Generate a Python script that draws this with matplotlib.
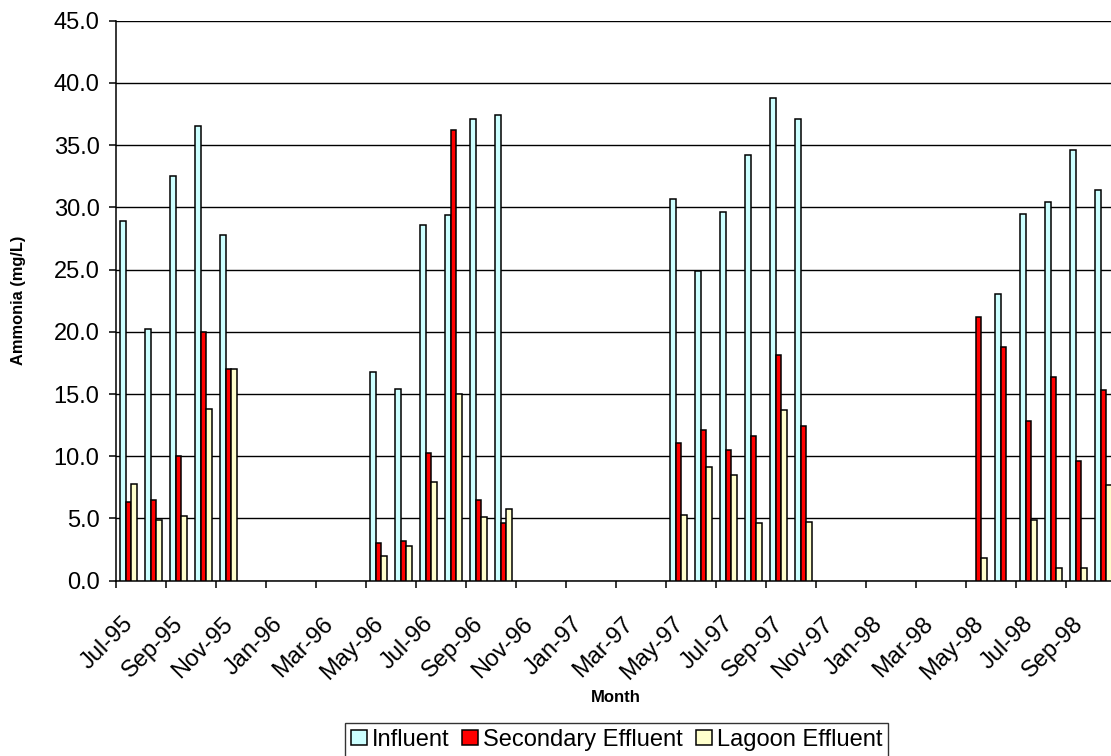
import matplotlib
matplotlib.use("Agg")
import matplotlib.pyplot as plt
import matplotlib.transforms as mtransforms
import numpy as np

plt.rcParams['font.family'] = ['Liberation Sans', 'DejaVu Sans']

nan = np.nan
months = ['Jul-95', 'Aug-95', 'Sep-95', 'Oct-95', 'Nov-95', 'Dec-95',
          'Jan-96', 'Feb-96', 'Mar-96', 'Apr-96', 'May-96', 'Jun-96',
          'Jul-96', 'Aug-96', 'Sep-96', 'Oct-96', 'Nov-96', 'Dec-96',
          'Jan-97', 'Feb-97', 'Mar-97', 'Apr-97', 'May-97', 'Jun-97',
          'Jul-97', 'Aug-97', 'Sep-97', 'Oct-97', 'Nov-97', 'Dec-97',
          'Jan-98', 'Feb-98', 'Mar-98', 'Apr-98', 'May-98', 'Jun-98',
          'Jul-98', 'Aug-98', 'Sep-98', 'Oct-98']

influent = [28.9, 20.2, 32.5, 36.5, 27.8, nan,
            nan, nan, nan, nan, 16.8, 15.4,
            28.6, 29.4, 37.1, 37.4, nan, nan,
            nan, nan, nan, nan, 30.7, 24.9,
            29.6, 34.2, 38.8, 37.1, nan, nan,
            nan, nan, nan, nan, nan, 23.0,
            29.5, 30.4, 34.6, 31.4]

secondary = [6.3, 6.5, 10.0, 20.0, 17.0, nan,
             nan, nan, nan, nan, 3.0, 3.2,
             10.3, 36.2, 6.5, 4.6, nan, nan,
             nan, nan, nan, nan, 11.1, 12.1,
             10.5, 11.6, 18.1, 12.4, nan, nan,
             nan, nan, nan, nan, 21.2, 18.8,
             12.8, 16.4, 9.6, 15.3]

lagoon = [7.8, 4.9, 5.2, 13.8, 17.0, nan,
          nan, nan, nan, nan, 2.0, 2.8,
          7.9, 15.0, 5.1, 5.8, nan, nan,
          nan, nan, nan, nan, 5.3, 9.1,
          8.5, 4.6, 13.7, 4.7, nan, nan,
          nan, nan, nan, nan, 1.8, nan,
          4.9, 1.0, 1.0, 7.7]

series = ['Influent', 'Secondary Effluent', 'Lagoon Effluent']
colors = ['#CCFFFF', '#FF0000', '#FFFFCC']

fig = plt.figure(figsize=(11.11, 7.56), dpi=100)
# plot area runs a little past the right edge (chart was cropped)
ax = fig.add_axes([116 / 1111, 1 - 580.7 / 756, 1000 / 1111, 560 / 756])

x = np.arange(len(months))
w = 0.232
for i, (vals, name, c) in enumerate(zip([influent, secondary, lagoon], series, colors)):
    ax.bar(x + (i - 1) * w, vals, width=w, color=c, edgecolor='black',
           linewidth=1.1, label=name, zorder=3)

ax.set_ylim(0, 45)
ax.set_yticks(np.arange(0, 46, 5))
ax.set_yticklabels(['%.1f' % v for v in np.arange(0, 46, 5)], fontsize=17)
ax.set_xlim(-0.5, 39.5)
ax.set_xticks(np.arange(-0.5, 39, 2))
ax.set_xticklabels(months[::2], rotation=45, ha='right', va='top',
                   rotation_mode='anchor', fontsize=17)
ax.tick_params(axis='both', direction='out', length=4.8, width=1.1, color='black')
ax.tick_params(axis='y', pad=7)
ax.tick_params(axis='x', pad=18.4)
shift = mtransforms.ScaledTranslation(0.06, 0, fig.dpi_scale_trans)
for lab in ax.get_xticklabels():
    lab.set_transform(lab.get_transform() + shift)

ax.yaxis.grid(True, color='black', linewidth=1)
ax.set_axisbelow(True)
for s in ['top', 'right']:
    ax.spines[s].set_visible(False)
for s in ['left', 'bottom']:
    ax.spines[s].set_linewidth(1.1)

ax.set_ylabel('Ammonia (mg/L)', fontsize=11.8, fontweight='bold')
ax.yaxis.label.set_va('center')
ax.yaxis.set_label_coords(-0.097, 0.5)
ax.set_xlabel('Month', fontsize=12, fontweight='bold')
ax.xaxis.label.set_va('center')
ax.xaxis.set_label_coords(0.5, -0.2077)

leg = fig.legend(loc='upper center', bbox_to_anchor=(616.5 / 1111, 1 - 723 / 756),
                 ncol=3, fontsize=17, frameon=True, fancybox=False,
                 edgecolor='black', handlelength=0.68, handleheight=0.65,
                 handletextpad=0.2, columnspacing=0.55, borderpad=0.25,
                 borderaxespad=0)
leg.get_frame().set_linewidth(1.0)

fig.savefig('out.png', dpi=100)
